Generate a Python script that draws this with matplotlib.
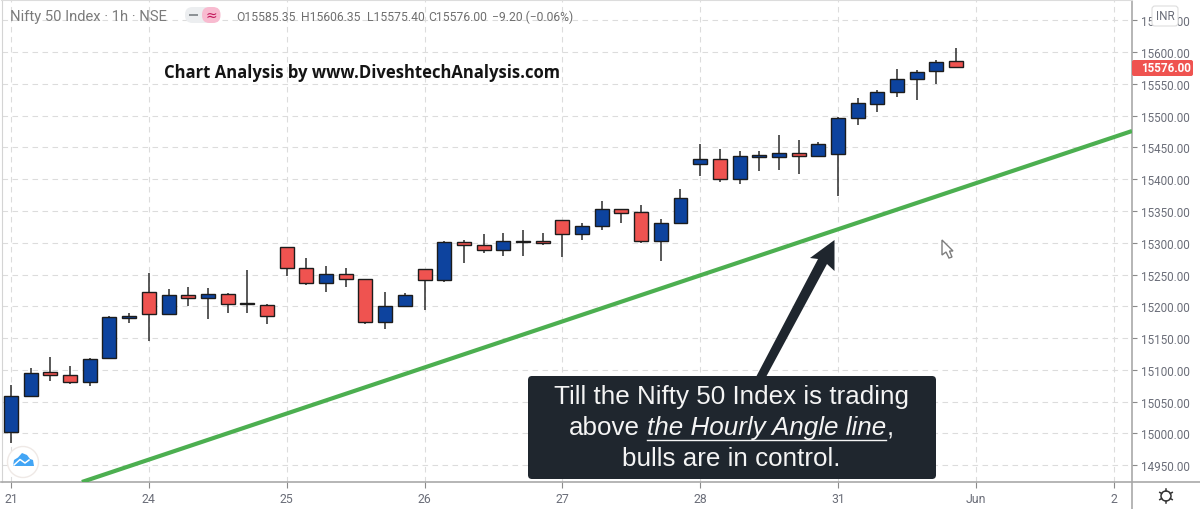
import matplotlib
matplotlib.use("Agg")
import matplotlib.pyplot as plt
import numpy as np
from matplotlib.patches import Circle, FancyBboxPatch, Polygon, Rectangle

# hourly candles, 7 per session
opens = [15002.7, 15059.3, 15096, 15092, 15081, 15119, 15182, 15222, 15188, 15218,
         15213.5, 15219, 15204.5, 15202.5, 15294, 15261, 15237, 15251, 15243, 15176,
         15200.5, 15258, 15241, 15301.6, 15297, 15289, 15301, 15303, 15336, 15314,
         15326, 15352.6, 15348, 15302.6, 15331.6, 15423.6, 15431.5, 15400.5, 15435, 15435,
         15440.4, 15437, 15440, 15496.6, 15517.6, 15537.5, 15557.5, 15570, 15585.35]
highs = [15076, 15103, 15120, 15106, 15118, 15184, 15190, 15253, 15227, 15230,
         15228, 15221, 15256.5, 15203, 15294, 15276, 15264, 15260, 15243, 15223,
         15221, 15258, 15303, 15304, 15314, 15315, 15319.5, 15316, 15336, 15331.5,
         15366, 15353, 15360, 15338, 15385, 15455, 15447, 15443.5, 15443.5, 15470,
         15462, 15459, 15497, 15527, 15540.7, 15573.8, 15572, 15587, 15606.35]
lows = [14985, 15059, 15082, 15077, 15075, 15117, 15174, 15145, 15186, 15200,
        15180, 15189, 15190, 15171.5, 15247.5, 15233, 15222, 15231, 15172.5, 15164,
        15200, 15194, 15238, 15268, 15284, 15279.5, 15279.5, 15297, 15278, 15304,
        15320, 15330.5, 15299.5, 15272, 15331.6, 15405, 15395, 15393, 15412.6, 15414,
        15408, 15436, 15374, 15485.6, 15505.5, 15529, 15524, 15549, 15575.4]
closes = [15059.3, 15095.5, 15092, 15081, 15117.5, 15183.6, 15184, 15188, 15218, 15213.5,
          15219, 15204, 15204, 15185, 15261, 15237, 15251, 15243, 15176, 15201,
          15218, 15241, 15301.6, 15296, 15289, 15303, 15302.5, 15299.5, 15314, 15327,
          15352.6, 15347, 15302.6, 15331.6, 15370.5, 15431.5, 15400.5, 15437, 15437.8, 15441.5,
          15436.7, 15455, 15495.5, 15520, 15537.5, 15557, 15569, 15585, 15576]

day_positions = [0, 7, 14, 21, 28, 35, 42, 49, 56]
day_labels = ["21", "24", "25", "26", "27", "28", "31", "Jun", "2"]
price_ticks = list(range(14950, 15700, 50))
angle_x = [3.6, 56.93]
angle_y = [14923.6, 15475.7]

TICK_GREY = "#6a6d78"
DARK = "#1f262e"
UI_FONT = "Roboto"

fig = plt.figure(figsize=(12, 5.1), dpi=100)
ax = fig.add_axes([1.5 / 1200, 27 / 510, 1130.5 / 1200, 482.5 / 510])
ax.set_xlim(-0.483, 56.93)
ax.set_ylim(14923.6, 15682.6)

# grid
ax.grid(True, color="#dcdcdc", lw=0.8, ls=(0, (5, 4)), zorder=0)
ax.set_axisbelow(True)
ax.set_xticks(day_positions, day_labels)
ax.set_yticks(price_ticks, [f"{p:.2f}" for p in price_ticks])
ax.yaxis.tick_right()
ax.tick_params(axis="y", length=3.5, width=0.8, color="#8a8a8a", pad=3,
               labelsize=8.4, labelcolor=TICK_GREY)
ax.tick_params(axis="x", length=4, width=0.8, color="#8a8a8a", pad=3,
               labelsize=8.8, labelcolor=TICK_GREY)
for lab in ax.get_xticklabels() + ax.get_yticklabels():
    lab.set_fontfamily(UI_FONT)
ax.spines["left"].set_color("#d4d4d4")
ax.spines["top"].set_color("#dcdcdc")
ax.spines["right"].set_color("#a9a9a9")
ax.spines["bottom"].set_color("#a9a9a9")
ax.spines["right"].set_linewidth(1.2)
ax.spines["bottom"].set_linewidth(1.2)

# candles
idx = np.arange(len(opens))
o = np.array(opens)
c = np.array(closes)
colors = np.where(c >= o, "#0d439e", "#ef5350")
ax.vlines(idx, lows, highs, color="#2b2b2b", lw=1.1, zorder=3)
ax.bar(idx, c - o, bottom=o, width=0.71, color=colors, edgecolor="#1c1c1c", lw=1.0, zorder=4)

# angle line
ax.plot(angle_x, angle_y, color="#4caf50", lw=3.0, solid_capstyle="butt", zorder=5)

# annotations and chart furniture, in image pixels
ov = fig.add_axes([0, 0, 1, 1], zorder=10)
ov.set_xlim(0, 1200)
ov.set_ylim(510, 0)
ov.axis("off")

ov.plot([1132, 1132], [483, 510], color="#a9a9a9", lw=1.2)
ov.plot([1132, 1200], [483, 483], color="#a9a9a9", lw=1.2)

# header
ov.text(10, 17, "Nifty 50 Index · 1h · NSE", family=UI_FONT, fontsize=10.6, color="#7b7b7b", va="center")
ov.add_patch(FancyBboxPatch((185, 8), 30, 16, boxstyle="round,pad=0,rounding_size=7.5",
                            fc="#eceef0", ec="none"))
ov.add_patch(FancyBboxPatch((202, 8), 18.5, 16, boxstyle="round,pad=0,rounding_size=7.5",
                            fc="#f8bbd0", ec="none"))
ov.add_patch(Rectangle((189, 14.5), 9, 2.5, fc="#8d9296", ec="none"))
ov.text(211, 16, "≈", fontsize=10, color="#c2185b", ha="center", va="center", family="DejaVu Sans")
for xp, s in [(236.5, "O15585.35"), (301.5, "H15606.35"), (366.5, "L15575.40"),
              (428.5, "C15576.00"), (492.5, "−9.20 (−0.06%)")]:
    ov.text(xp, 17.5, s, family=UI_FONT, fontsize=8.7, color="#6f6f6f", va="center")

ov.text(164, 72.5, "Chart Analysis by www.DiveshtechAnalysis.com", family="Open Sans",
        fontweight="bold", fontsize=11.95, color="#141414", va="center")

# callout arrow and box
ov.add_patch(Polygon([(834.5, 241), (834.5, 272), (827, 265), (766, 378), (756, 378), (818, 260), (810, 259)],
                     closed=True, fc=DARK, ec="none"))
ov.add_patch(FancyBboxPatch((528, 377), 408, 103, boxstyle="round,pad=0,rounding_size=4", fc=DARK, ec="none"))
ov.text(731, 397.5, "Till the Nifty 50 Index is trading", family="Liberation Sans", fontsize=18.7,
        color="#f4f4f4", ha="center", va="center")
ov.text(569, 428.5, "above", family="Liberation Sans", fontsize=18.7, color="#f4f4f4", va="center")
ov.text(647, 428.5, "the Hourly Angle line", family="Liberation Sans", style="italic", fontsize=18.7,
        color="#f4f4f4", va="center")
ov.text(887, 428.5, ",", family="Liberation Sans", fontsize=18.7, color="#f4f4f4", va="center")
ov.plot([647, 886], [441, 441], color="#f4f4f4", lw=1.0)
ov.text(731, 459, "bulls are in control.", family="Liberation Sans", fontsize=18.7,
        color="#f4f4f4", ha="center", va="center")

# right scale bits
ov.add_patch(FancyBboxPatch((1152, 7), 26, 20, boxstyle="round,pad=0,rounding_size=3", fc="white", ec="#dddddd", lw=0.8))
ov.text(1165, 16, "INR", family=UI_FONT, fontsize=8.4, color="#6a6d78", ha="center", va="center")
ov.add_patch(FancyBboxPatch((1132, 61), 61, 16, boxstyle="round,pad=0,rounding_size=2", fc="#ef5350", ec="none"))
ov.text(1141.5, 69, "15576.00", family=UI_FONT, fontsize=8.4, fontweight="bold", color="white", va="center")

# settings icon
ov.add_patch(Circle((1166, 497), 5, fc="white", ec="#333333", lw=1.1))
for a in np.deg2rad([30, 90, 150, 210, 270, 330]):
    ov.plot([1166 + 5 * np.cos(a), 1166 + 7.2 * np.cos(a)], [497 + 5 * np.sin(a), 497 + 7.2 * np.sin(a)],
            color="#333333", lw=1.1)

# logo badge
ov.add_patch(Circle((23, 463), 15.5, fc="white", ec="#efe9e6", lw=1))
ov.add_patch(Polygon([(13, 467), (14, 461), (18, 458.5), (22, 454), (27, 456), (30, 460), (33, 461), (34, 467)],
                     closed=True, fc="#42a5f5", ec="none"))
ov.plot([14, 20, 25, 29], [466, 460.5, 464, 461], color="white", lw=1.1)

# mouse pointer
ov.add_patch(Polygon([(942, 241), (942, 256), (946, 253), (949, 259), (952, 258), (949.5, 252), (953, 252)],
                     closed=True, fc="white", ec="#7d7d7d", lw=1))

fig.savefig("out.png", dpi=100)
